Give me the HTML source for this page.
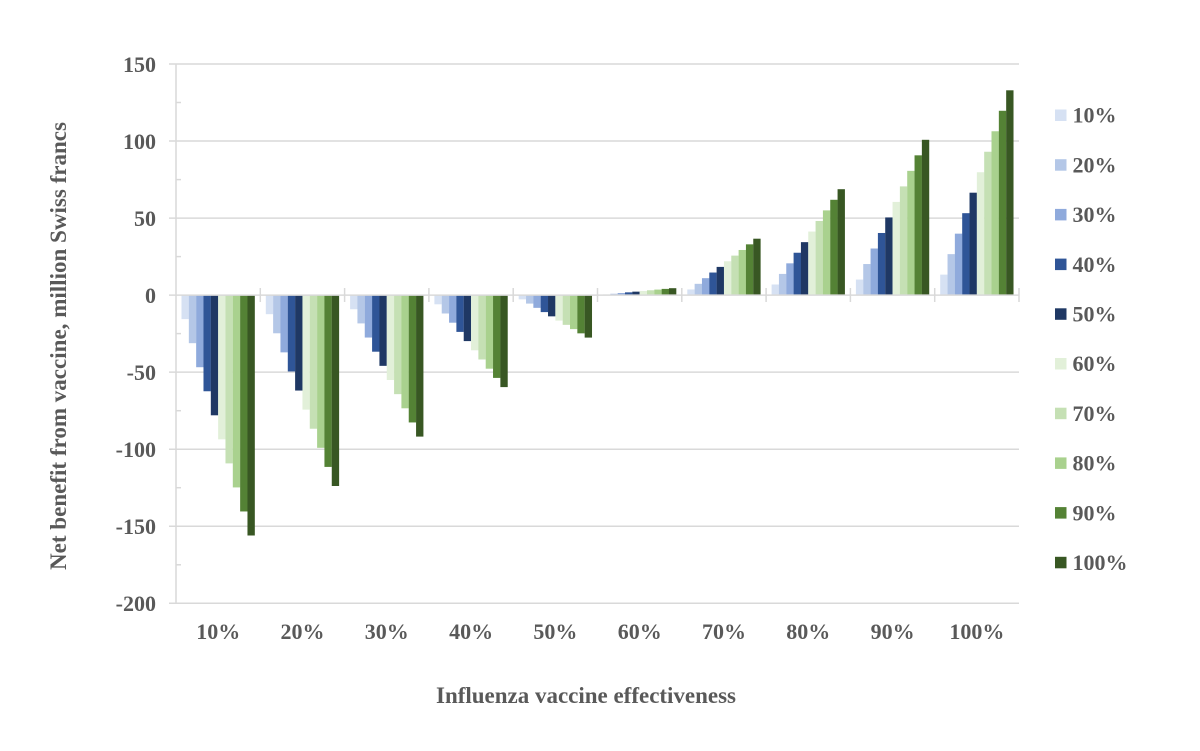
<!DOCTYPE html>
<html>
<head>
<meta charset="utf-8">
<style>
html,body{margin:0;padding:0;background:#fff;}
svg{display:block;}
text{font-family:"Liberation Serif","Times New Roman",serif;font-weight:bold;fill:#595959;}
.c1{fill:#d6e1f3}.c2{fill:#b4c7e7}.c3{fill:#8faadc}.c4{fill:#2f5597}.c5{fill:#1f3864}
.c6{fill:#e2f0d9}.c7{fill:#c5e0b4}.c8{fill:#a9d18e}.c9{fill:#548235}.c10{fill:#385723}
</style>
</head>
<body>
<svg width="1200" height="751" viewBox="0 0 1200 751" xmlns="http://www.w3.org/2000/svg">
<rect width="1200" height="751" fill="#fff"/>
<!-- gridlines -->
<g stroke="#d9d9d9" stroke-width="1.5" fill="none">
<line x1="169" y1="64" x2="1019" y2="64"/>
<line x1="169" y1="141.05" x2="1019" y2="141.05"/>
<line x1="169" y1="218.1" x2="1019" y2="218.1"/>
<line x1="169" y1="372.15" x2="1019" y2="372.15"/>
<line x1="169" y1="449.2" x2="1019" y2="449.2"/>
<line x1="169" y1="526.25" x2="1019" y2="526.25"/>
<line x1="169" y1="603.3" x2="1019" y2="603.3"/>
</g>
<!-- bars -->
<g transform="translate(176,295.1)">
<rect class="c1" x="5.5" y="0" width="7.4" height="24.04"/>
<rect class="c2" x="12.83" y="0" width="7.4" height="48.08"/>
<rect class="c3" x="20.16" y="0" width="7.4" height="72.12"/>
<rect class="c4" x="27.49" y="0" width="7.4" height="96.16"/>
<rect class="c5" x="34.82" y="0" width="7.4" height="120.2"/>
<rect class="c6" x="42.15" y="0" width="7.4" height="144.24"/>
<rect class="c7" x="49.48" y="0" width="7.4" height="168.28"/>
<rect class="c8" x="56.81" y="0" width="7.4" height="192.32"/>
<rect class="c9" x="64.14" y="0" width="7.4" height="216.36"/>
<rect class="c10" x="71.47" y="0" width="7.35" height="240.4"/>
</g>
<g transform="translate(260.3,295.1)">
<rect class="c1" x="5.5" y="0" width="7.4" height="19.09"/>
<rect class="c2" x="12.83" y="0" width="7.4" height="38.18"/>
<rect class="c3" x="20.16" y="0" width="7.4" height="57.27"/>
<rect class="c4" x="27.49" y="0" width="7.4" height="76.36"/>
<rect class="c5" x="34.82" y="0" width="7.4" height="95.45"/>
<rect class="c6" x="42.15" y="0" width="7.4" height="114.54"/>
<rect class="c7" x="49.48" y="0" width="7.4" height="133.63"/>
<rect class="c8" x="56.81" y="0" width="7.4" height="152.72"/>
<rect class="c9" x="64.14" y="0" width="7.4" height="171.81"/>
<rect class="c10" x="71.47" y="0" width="7.35" height="190.9"/>
</g>
<g transform="translate(344.6,295.1)">
<rect class="c1" x="5.5" y="0" width="7.4" height="14.15"/>
<rect class="c2" x="12.83" y="0" width="7.4" height="28.3"/>
<rect class="c3" x="20.16" y="0" width="7.4" height="42.45"/>
<rect class="c4" x="27.49" y="0" width="7.4" height="56.6"/>
<rect class="c5" x="34.82" y="0" width="7.4" height="70.75"/>
<rect class="c6" x="42.15" y="0" width="7.4" height="84.9"/>
<rect class="c7" x="49.48" y="0" width="7.4" height="99.05"/>
<rect class="c8" x="56.81" y="0" width="7.4" height="113.2"/>
<rect class="c9" x="64.14" y="0" width="7.4" height="127.35"/>
<rect class="c10" x="71.47" y="0" width="7.35" height="141.5"/>
</g>
<g transform="translate(428.9,295.1)">
<rect class="c1" x="5.5" y="0" width="7.4" height="9.2"/>
<rect class="c2" x="12.83" y="0" width="7.4" height="18.4"/>
<rect class="c3" x="20.16" y="0" width="7.4" height="27.6"/>
<rect class="c4" x="27.49" y="0" width="7.4" height="36.8"/>
<rect class="c5" x="34.82" y="0" width="7.4" height="46"/>
<rect class="c6" x="42.15" y="0" width="7.4" height="55.2"/>
<rect class="c7" x="49.48" y="0" width="7.4" height="64.4"/>
<rect class="c8" x="56.81" y="0" width="7.4" height="73.6"/>
<rect class="c9" x="64.14" y="0" width="7.4" height="82.8"/>
<rect class="c10" x="71.47" y="0" width="7.35" height="92"/>
</g>
<g transform="translate(513.2,295.1)">
<rect class="c1" x="5.5" y="0" width="7.4" height="4.25"/>
<rect class="c2" x="12.83" y="0" width="7.4" height="8.5"/>
<rect class="c3" x="20.16" y="0" width="7.4" height="12.75"/>
<rect class="c4" x="27.49" y="0" width="7.4" height="17"/>
<rect class="c5" x="34.82" y="0" width="7.4" height="21.25"/>
<rect class="c6" x="42.15" y="0" width="7.4" height="25.5"/>
<rect class="c7" x="49.48" y="0" width="7.4" height="29.75"/>
<rect class="c8" x="56.81" y="0" width="7.4" height="34"/>
<rect class="c9" x="64.14" y="0" width="7.4" height="38.25"/>
<rect class="c10" x="71.47" y="0" width="7.35" height="42.5"/>
</g>
<g transform="translate(597.5,295.1) scale(1,-1)">
<rect class="c1" x="5.5" y="0" width="7.4" height="0.69"/>
<rect class="c2" x="12.83" y="0" width="7.4" height="1.38"/>
<rect class="c3" x="20.16" y="0" width="7.4" height="2.07"/>
<rect class="c4" x="27.49" y="0" width="7.4" height="2.76"/>
<rect class="c5" x="34.82" y="0" width="7.4" height="3.45"/>
<rect class="c6" x="42.15" y="0" width="7.4" height="4.14"/>
<rect class="c7" x="49.48" y="0" width="7.4" height="4.83"/>
<rect class="c8" x="56.81" y="0" width="7.4" height="5.52"/>
<rect class="c9" x="64.14" y="0" width="7.4" height="6.21"/>
<rect class="c10" x="71.47" y="0" width="7.35" height="6.9"/>
</g>
<g transform="translate(681.8,295.1) scale(1,-1)">
<rect class="c1" x="5.5" y="0" width="7.4" height="5.64"/>
<rect class="c2" x="12.83" y="0" width="7.4" height="11.28"/>
<rect class="c3" x="20.16" y="0" width="7.4" height="16.92"/>
<rect class="c4" x="27.49" y="0" width="7.4" height="22.56"/>
<rect class="c5" x="34.82" y="0" width="7.4" height="28.2"/>
<rect class="c6" x="42.15" y="0" width="7.4" height="33.84"/>
<rect class="c7" x="49.48" y="0" width="7.4" height="39.48"/>
<rect class="c8" x="56.81" y="0" width="7.4" height="45.12"/>
<rect class="c9" x="64.14" y="0" width="7.4" height="50.76"/>
<rect class="c10" x="71.47" y="0" width="7.35" height="56.4"/>
</g>
<g transform="translate(766.1,295.1) scale(1,-1)">
<rect class="c1" x="5.5" y="0" width="7.4" height="10.59"/>
<rect class="c2" x="12.83" y="0" width="7.4" height="21.18"/>
<rect class="c3" x="20.16" y="0" width="7.4" height="31.77"/>
<rect class="c4" x="27.49" y="0" width="7.4" height="42.36"/>
<rect class="c5" x="34.82" y="0" width="7.4" height="52.95"/>
<rect class="c6" x="42.15" y="0" width="7.4" height="63.54"/>
<rect class="c7" x="49.48" y="0" width="7.4" height="74.13"/>
<rect class="c8" x="56.81" y="0" width="7.4" height="84.72"/>
<rect class="c9" x="64.14" y="0" width="7.4" height="95.31"/>
<rect class="c10" x="71.47" y="0" width="7.35" height="105.9"/>
</g>
<g transform="translate(850.4,295.1) scale(1,-1)">
<rect class="c1" x="5.5" y="0" width="7.4" height="15.53"/>
<rect class="c2" x="12.83" y="0" width="7.4" height="31.06"/>
<rect class="c3" x="20.16" y="0" width="7.4" height="46.59"/>
<rect class="c4" x="27.49" y="0" width="7.4" height="62.12"/>
<rect class="c5" x="34.82" y="0" width="7.4" height="77.65"/>
<rect class="c6" x="42.15" y="0" width="7.4" height="93.18"/>
<rect class="c7" x="49.48" y="0" width="7.4" height="108.71"/>
<rect class="c8" x="56.81" y="0" width="7.4" height="124.24"/>
<rect class="c9" x="64.14" y="0" width="7.4" height="139.77"/>
<rect class="c10" x="71.47" y="0" width="7.35" height="155.3"/>
</g>
<g transform="translate(934.7,295.1) scale(1,-1)">
<rect class="c1" x="5.5" y="0" width="7.4" height="20.48"/>
<rect class="c2" x="12.83" y="0" width="7.4" height="40.96"/>
<rect class="c3" x="20.16" y="0" width="7.4" height="61.44"/>
<rect class="c4" x="27.49" y="0" width="7.4" height="81.92"/>
<rect class="c5" x="34.82" y="0" width="7.4" height="102.4"/>
<rect class="c6" x="42.15" y="0" width="7.4" height="122.88"/>
<rect class="c7" x="49.48" y="0" width="7.4" height="143.36"/>
<rect class="c8" x="56.81" y="0" width="7.4" height="163.84"/>
<rect class="c9" x="64.14" y="0" width="7.4" height="184.32"/>
<rect class="c10" x="71.47" y="0" width="7.35" height="204.8"/>
</g>
<!-- axes -->
<g stroke="#d9d9d9" stroke-width="1.5" fill="none">
<line x1="176" y1="64" x2="176" y2="603.3"/>
<line x1="169" y1="295.1" x2="1019" y2="295.1"/>
<!-- minor ticks -->
<line x1="176" y1="102.5" x2="181" y2="102.5"/>
<line x1="176" y1="179.6" x2="181" y2="179.6"/>
<line x1="176" y1="256.6" x2="181" y2="256.6"/>
<line x1="176" y1="333.6" x2="181" y2="333.6"/>
<line x1="176" y1="410.7" x2="181" y2="410.7"/>
<line x1="176" y1="487.7" x2="181" y2="487.7"/>
<line x1="176" y1="564.8" x2="181" y2="564.8"/>
<!-- category ticks -->
<line x1="260.3" y1="288" x2="260.3" y2="302"/>
<line x1="344.6" y1="288" x2="344.6" y2="302"/>
<line x1="428.9" y1="288" x2="428.9" y2="302"/>
<line x1="513.2" y1="288" x2="513.2" y2="302"/>
<line x1="597.5" y1="288" x2="597.5" y2="302"/>
<line x1="681.8" y1="288" x2="681.8" y2="302"/>
<line x1="766.1" y1="288" x2="766.1" y2="302"/>
<line x1="850.4" y1="288" x2="850.4" y2="302"/>
<line x1="934.7" y1="288" x2="934.7" y2="302"/>
<line x1="1019" y1="288" x2="1019" y2="302"/>
</g>
<!-- y tick labels -->
<g font-size="22" text-anchor="end">
<text x="156" y="72">150</text>
<text x="156" y="149">100</text>
<text x="156" y="226">50</text>
<text x="156" y="303">0</text>
<text x="156" y="380">-50</text>
<text x="156" y="457">-100</text>
<text x="156" y="534">-150</text>
<text x="156" y="611">-200</text>
</g>
<!-- x tick labels -->
<g font-size="22" text-anchor="middle">
<text x="218.2" y="639">10%</text>
<text x="302.5" y="639">20%</text>
<text x="386.8" y="639">30%</text>
<text x="471.1" y="639">40%</text>
<text x="555.4" y="639">50%</text>
<text x="639.7" y="639">60%</text>
<text x="724" y="639">70%</text>
<text x="808.3" y="639">80%</text>
<text x="892.6" y="639">90%</text>
<text x="976.9" y="639">100%</text>
</g>
<!-- axis titles -->
<text x="436" y="703" font-size="23" textLength="300" lengthAdjust="spacingAndGlyphs">Influenza vaccine effectiveness</text>
<text transform="translate(66,570) rotate(-90)" font-size="23" textLength="448" lengthAdjust="spacingAndGlyphs">Net benefit from vaccine, million Swiss francs</text>
<!-- legend -->
<g>
<rect class="c1" x="1055" y="109.5" width="11.5" height="11.5"/>
<rect class="c2" x="1055" y="159.2" width="11.5" height="11.5"/>
<rect class="c3" x="1055" y="208.9" width="11.5" height="11.5"/>
<rect class="c4" x="1055" y="258.6" width="11.5" height="11.5"/>
<rect class="c5" x="1055" y="308.3" width="11.5" height="11.5"/>
<rect class="c6" x="1055" y="358" width="11.5" height="11.5"/>
<rect class="c7" x="1055" y="407.7" width="11.5" height="11.5"/>
<rect class="c8" x="1055" y="457.4" width="11.5" height="11.5"/>
<rect class="c9" x="1055" y="507.1" width="11.5" height="11.5"/>
<rect class="c10" x="1055" y="556.8" width="11.5" height="11.5"/>
</g>
<g font-size="22">
<text x="1072.5" y="122.7">10%</text>
<text x="1072.5" y="172.4">20%</text>
<text x="1072.5" y="222.1">30%</text>
<text x="1072.5" y="271.8">40%</text>
<text x="1072.5" y="321.5">50%</text>
<text x="1072.5" y="371.2">60%</text>
<text x="1072.5" y="420.9">70%</text>
<text x="1072.5" y="470.6">80%</text>
<text x="1072.5" y="520.3">90%</text>
<text x="1072.5" y="570">100%</text>
</g>
</svg>
</body>
</html>
